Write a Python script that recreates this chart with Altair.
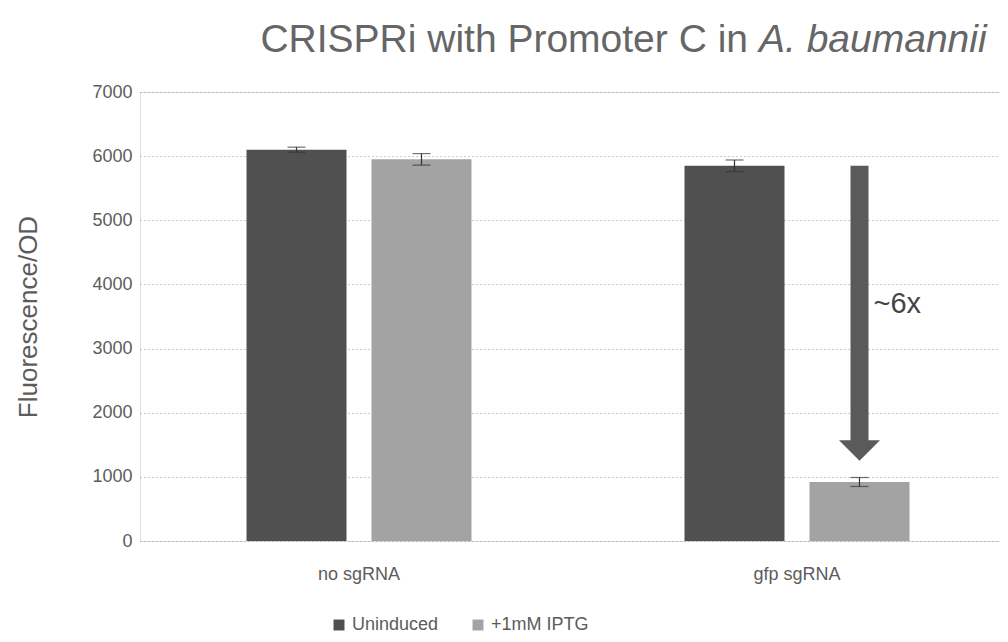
import altair as alt
import pandas as pd

categories = ["no sgRNA", "gfp sgRNA"]
conditions = ["Uninduced", "+1mM IPTG"]
uninduced = [6100, 5850]
iptg = [5950, 920]
err_uninduced = [40, 90]
err_iptg = [90, 70]
y_ticks = [0, 1000, 2000, 3000, 4000, 5000, 6000, 7000]
arrow_top = 5850
arrow_shaft_end = 1560
arrow_head = 1410
fold_label = "~6x"
fold_label_y = 3700
title_plain = "CRISPRi with Promoter C in"
title_italic = "A. baumannii"

rows = []
for i, c in enumerate(categories):
    rows.append({"cat": c, "cond": conditions[0], "val": uninduced[i], "err": err_uninduced[i]})
    rows.append({"cat": c, "cond": conditions[1], "val": iptg[i], "err": err_iptg[i]})
df = pd.DataFrame(rows)
df["lo"] = df["val"] - df["err"]
df["hi"] = df["val"] + df["err"]

arrow_df = pd.DataFrame([{"cat": categories[1], "cond": conditions[1],
                          "top": arrow_top, "end": arrow_shaft_end, "head": arrow_head,
                          "lab": fold_label, "ly": fold_label_y}])

FONT = "Liberation Sans"
TXT = "#5c5c5c"
W, H = 860, 449

xscale = alt.Scale(domain=categories, paddingInner=0, paddingOuter=0, range=[0, 876])
xoff = alt.Scale(domain=conditions, paddingInner=0.2, paddingOuter=0.852)
yscale = alt.Scale(domain=[0, 7000], nice=False)

base = alt.Chart(df)

bars = base.mark_bar().encode(
    x=alt.X("cat:N", scale=xscale, sort=categories,
            axis=alt.Axis(title=None, labelAngle=0, labelFont=FONT, labelFontSize=18,
                          labelColor=TXT, ticks=False, domain=False, labelPadding=24)),
    xOffset=alt.XOffset("cond:N", scale=xoff, sort=conditions),
    y=alt.Y("val:Q", scale=yscale,
            axis=alt.Axis(values=y_ticks, format="d", title="Fluorescence/OD", titleFont=FONT,
                          titleFontSize=26, titleFontWeight="normal", titleColor=TXT,
                          titlePadding=50, labelFont=FONT, labelFontSize=18,
                          labelColor=TXT, labelPadding=8, ticks=False, domain=False,
                          grid=True, gridDash=[1, 3], gridColor="#999", gridWidth=1)),
    color=alt.Color("cond:N", sort=conditions,
                    scale=alt.Scale(domain=conditions, range=["#505050", "#a3a3a3"]),
                    legend=alt.Legend(title=None, orient="none", direction="horizontal",
                                      legendX=190, legendY=524, labelFont=FONT,
                                      labelFontSize=18, labelColor=TXT, symbolType="square",
                                      symbolSize=120, columnPadding=30)),
)

err_rule = base.mark_rule(color="#333", strokeWidth=1.2).encode(
    x=alt.X("cat:N", scale=xscale, sort=categories),
    xOffset=alt.XOffset("cond:N", scale=xoff, sort=conditions),
    y="lo:Q", y2="hi:Q",
)
cap_lo = base.mark_tick(color="#333", size=18, thickness=1.2).encode(
    x=alt.X("cat:N", scale=xscale, sort=categories),
    xOffset=alt.XOffset("cond:N", scale=xoff, sort=conditions),
    y="lo:Q",
)
cap_hi = base.mark_tick(color="#333", size=18, thickness=1.2).encode(
    x=alt.X("cat:N", scale=xscale, sort=categories),
    xOffset=alt.XOffset("cond:N", scale=xoff, sort=conditions),
    y="hi:Q",
)

abase = alt.Chart(arrow_df)
shaft = abase.mark_rule(color="#5a5a5a", strokeWidth=18).encode(
    x=alt.X("cat:N", scale=xscale, sort=categories),
    xOffset=alt.XOffset("cond:N", scale=xoff, sort=conditions),
    y="top:Q", y2="end:Q",
)
head = abase.mark_point(shape="M-1,-0.5L1,-0.5L0,0.5Z", filled=True, opacity=1,
                        color="#5a5a5a", size=420 * 4, strokeWidth=0).encode(
    x=alt.X("cat:N", scale=xscale, sort=categories),
    xOffset=alt.XOffset("cond:N", scale=xoff, sort=conditions),
    y="head:Q",
)
fold = abase.mark_text(font=FONT, fontSize=29, color="#444", align="left", dx=14).encode(
    x=alt.X("cat:N", scale=xscale, sort=categories),
    xOffset=alt.XOffset("cond:N", scale=xoff, sort=conditions),
    y="ly:Q", text="lab:N",
)

title_df = pd.DataFrame([{"a": title_plain, "b": title_italic}])
t1 = alt.Chart(title_df).mark_text(font=FONT, fontSize=39, color="#666", align="right",
                                   baseline="alphabetic").encode(
    x=alt.value(608), y=alt.value(-40), text="a:N")
t2 = alt.Chart(title_df).mark_text(font=FONT, fontSize=39, color="#666", align="left",
                                   fontStyle="italic", baseline="alphabetic").encode(
    x=alt.value(619), y=alt.value(-40), text="b:N")

chart = alt.layer(bars, err_rule, cap_lo, cap_hi, shaft, head, fold, t1, t2).properties(
    width=W, height=H,
    autosize=alt.AutoSizeParams(type="none"),
    padding={"left": 132, "top": 84, "right": 0, "bottom": 93},
).configure_view(stroke=None).configure(background="white")

chart.save("out.html", embed_options={"renderer": "svg", "actions": False})
